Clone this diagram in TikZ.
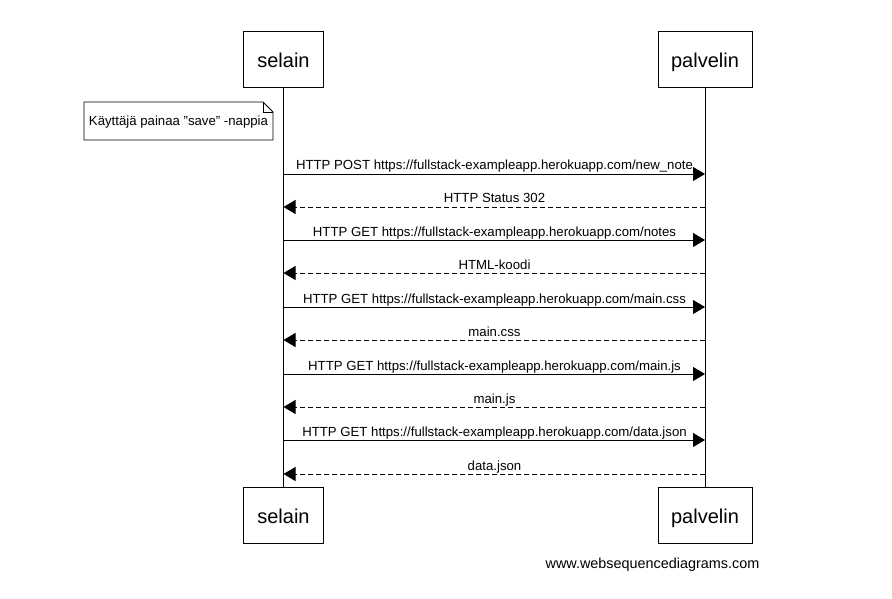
\documentclass[tikz,border=0pt]{standalone}
\usepackage{fontspec}
\setmainfont{Liberation Sans}[Ligatures=ResetAll]
\usetikzlibrary{arrows.meta}
\begin{document}
\begin{tikzpicture}[x=1pt,y=-1pt,
  actor/.style={draw,line width=1pt,minimum width=80pt,minimum height=56pt,inner sep=0pt,text height=16pt,text depth=0pt,font=\fontsize{20}{22}\selectfont},
  actorw/.style={actor,minimum width=94pt},
  msg/.style={line width=0.8pt,-{Triangle[length=12pt,width=14pt]}},
  ret/.style={msg,dash pattern=on 5pt off 3pt},
  lbl/.style={font=\fontsize{13.2}{15}\selectfont,inner sep=0pt,anchor=base},
  life/.style={line width=0.8pt}]
\useasboundingbox (0,0) rectangle (892,599);
\node[actor] (s1) at (283.5,60) {selain};
\node[actorw] (p1) at (705,60) {palvelin};
\node[actor] (s2) at (283.5,515.5) {selain};
\node[actorw] (p2) at (705,515.5) {palvelin};
\draw[life] (s1.south) -- (s2.north);
\draw[life] (p1.south) -- (p2.north);
% note
\draw[line width=0.8pt] (84,102) -- (263,102) -- (273,112) -- (273,140) -- (84,140) -- cycle;
\draw[line width=0.6pt] (263,102) -- (263,112) -- (273,112);
\node[font=\fontsize{13.2}{15}\selectfont,inner sep=0pt] (note) at (178.5,122) {Käyttäjä painaa "save" -nappia};
% messages
\foreach \y/\t/\d in {174/{HTTP POST https://fullstack-exampleapp.herokuapp.com/new\_note}/0,
  207/{HTTP Status 302}/1,
  240/{HTTP GET https://fullstack-exampleapp.herokuapp.com/notes}/0,
  273/{HTML-koodi}/1,
  307/{HTTP GET https://fullstack-exampleapp.herokuapp.com/main.css}/0,
  340/{main.css}/1,
  374/{HTTP GET https://fullstack-exampleapp.herokuapp.com/main.js}/0,
  407/{main.js}/1,
  440/{HTTP GET https://fullstack-exampleapp.herokuapp.com/data.json}/0,
  474/{data.json}/1}{
  \coordinate (a\y) at (283.5,\y);
  \coordinate (b\y) at (705,\y);
  \ifnum\d=0
    \draw[msg] (a\y) -- (b\y);
  \else
    \draw[ret] (b\y) -- (a\y);
  \fi
  \node[lbl] at (494.5,\y-4) {\t};
}
\node[font=\fontsize{14.4}{16}\selectfont,inner sep=0pt] (wm) at (652.5,564.5) {www.websequencediagrams.com};
\end{tikzpicture}
\end{document}
